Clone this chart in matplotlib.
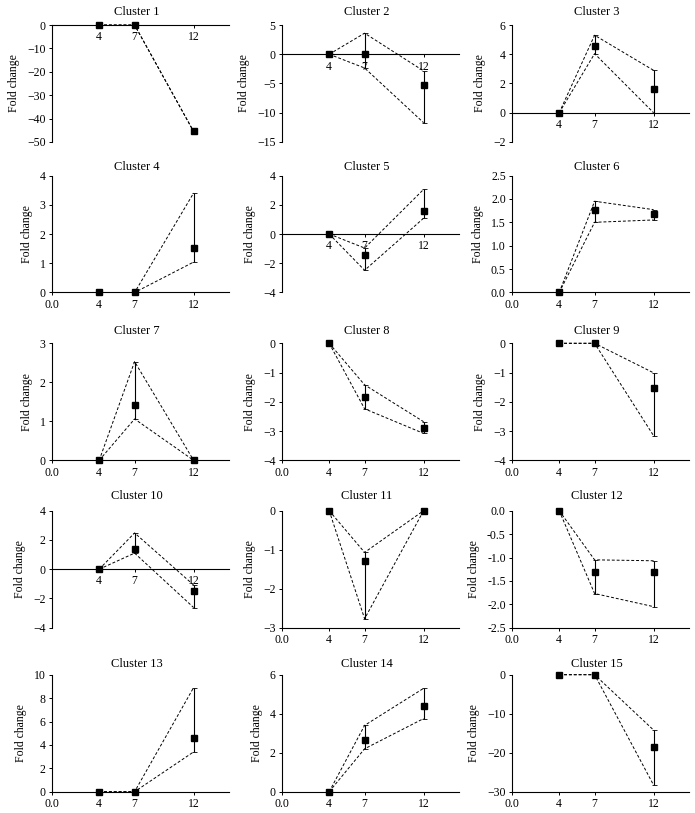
import numpy as np
from matplotlib import pyplot as plt

plt.rcParams["font.family"] = ["Liberation Serif", "DejaVu Serif"]
plt.rcParams["font.size"] = 8

DAYS = [4, 7, 12]
TITLES = [f"Cluster {i}" for i in range(1, 16)]

# mean fold change at days 4, 7, 12
MEANS = [
    [0, 0, -45.5],
    [0, 0, -5.2],
    [0, 4.55, 1.6],
    [0, 0, 1.51],
    [0, -1.47, 1.54],
    [0, 1.77, 1.68],
    [0, 1.43, 0],
    [0, -1.85, -2.91],
    [0, 0, -1.53],
    [0, 1.4, -1.47],
    [0, -1.28, 0],
    [0, -1.3, -1.32],
    [0, 0, 4.6],
    [0, 2.65, 4.4],
    [0, 0, -18.5],
]
UPPER = [
    [0, 0, -45.5],
    [0, 3.6, -2.85],
    [0, 5.3, 2.9],
    [0, 0, 3.4],
    [0, -0.96, 3.05],
    [0, 1.95, 1.77],
    [0, 2.53, 0],
    [0, -1.42, -2.68],
    [0, 0, -1.01],
    [0, 2.48, -1.08],
    [0, -1.07, 0],
    [0, -1.05, -1.07],
    [0, 0, 8.9],
    [0, 3.4, 5.3],
    [0, 0, -14.2],
]
LOWER = [
    [0, 0, -45.5],
    [0, -2.35, -11.7],
    [0, 4.04, 0],
    [0, 0, 1.04],
    [0, -2.48, 1.08],
    [0, 1.5, 1.55],
    [0, 1.06, 0],
    [0, -2.24, -3.08],
    [0, 0, -3.16],
    [0, 1.1, -2.62],
    [0, -2.77, 0],
    [0, -1.77, -2.05],
    [0, 0, 3.4],
    [0, 2.2, 3.75],
    [0, 0, -28.3],
]
YLIMS = [
    (-50, 0), (-15, 5), (-2, 6),
    (0, 4), (-4, 4), (0, 2.5),
    (0, 3), (-4, 0), (-4, 0),
    (-4, 4), (-3, 0), (-2.5, 0),
    (0, 10), (0, 6), (-30, 0),
]
YSTEPS = [10, 5, 2, 1, 2, 0.5, 1, 1, 1, 2, 1, 0.5, 2, 2, 10]
# where the x axis line crosses
XAXIS_AT = [0, 0, 0, 0, 0, 0, 0, -4, -4, 0, -3, -2.5, 0, 0, -30]

W, H = 695, 813
COL_LEFT = [52, 282, 512]
AX_W = 177
ROW_TOP = [25, 175.5, 343.3, 510.7, 674.7]
AX_H = 117
TITLE_OFF = [13, 9, 12.5, 15, 11]

fig = plt.figure(figsize=(W / 100, H / 100), dpi=100)

for i in range(15):
    r, c = divmod(i, 3)
    ax = fig.add_axes([COL_LEFT[c] / W, 1 - (ROW_TOP[r] + AX_H) / H, AX_W / W, AX_H / H])
    up, lo, mn = UPPER[i], LOWER[i], MEANS[i]

    ax.plot(DAYS, up, ls=(0, (3, 2)), color="black", lw=0.7, clip_on=False)
    ax.plot(DAYS, lo, ls=(0, (3, 2)), color="black", lw=0.7, clip_on=False)
    yerr = [np.subtract(mn, lo), np.subtract(up, mn)]
    ax.errorbar(DAYS, mn, yerr=yerr, fmt="s", color="black", ms=4.5,
                elinewidth=0.8, capsize=1.8, capthick=0.6, clip_on=False, zorder=3)

    ax.set_xlim(0, 15)
    lo_lim, hi_lim = YLIMS[i]
    ax.set_ylim(lo_lim, hi_lim)
    ax.set_yticks(np.arange(lo_lim, hi_lim + YSTEPS[i] / 2, YSTEPS[i]))
    if YSTEPS[i] < 1:
        ax.yaxis.set_major_formatter(plt.FormatStrFormatter("%.1f"))
    else:
        ax.yaxis.set_major_formatter(plt.FuncFormatter(lambda v, p: f"{int(round(v))}".replace("-", "\u2212")))

    at = XAXIS_AT[i]
    if at == lo_lim:
        ax.set_xticks([0] + DAYS)
        ax.set_xticklabels(["0.0"] + [str(d) for d in DAYS])
    else:
        ax.set_xticks(DAYS)
        ax.set_xticklabels([str(d) for d in DAYS])

    ax.spines["top"].set_visible(False)
    ax.spines["right"].set_visible(False)
    ax.spines["bottom"].set_position(("data", at))
    for s in ("left", "bottom"):
        ax.spines[s].set_linewidth(0.8)
    ax.tick_params(direction="out", length=2.5, width=0.7, pad=2, labelsize=8.5)
    ax.set_ylabel("Fold change", labelpad=5, fontsize=8.5)
    ax.text(0.48, 1 + TITLE_OFF[r] / AX_H, TITLES[i], transform=ax.transAxes,
            ha="center", va="center", fontsize=9)

fig.savefig("out.png", dpi=100)
